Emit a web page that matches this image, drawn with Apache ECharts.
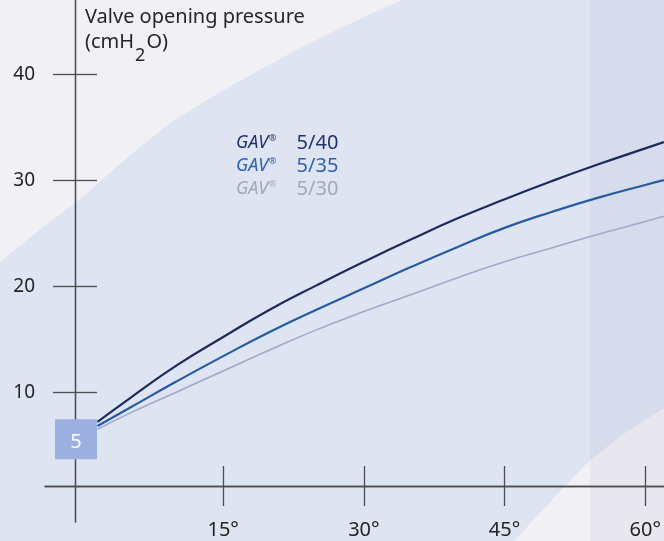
<!DOCTYPE html>
<html>
<head>
<meta charset="utf-8">
<script src="https://cdn.jsdelivr.net/npm/echarts@6/dist/echarts.min.js"></script>
<style>
html,body{margin:0;padding:0;background:#dfe4f3;}
#chart{width:664px;height:541px;}
</style>
</head>
<body>
<div id="chart"></div>
<script>
// ---- data ----
const angles = [1.6, 5, 10, 15, 20, 25, 30, 35, 40, 45, 50, 55, 60, 62];
const gav540 = [7.2, 9.4, 12.5, 15.2, 17.8, 20.1, 22.3, 24.4, 26.4, 28.2, 29.9, 31.5, 33.0, 33.6];
const gav535 = [6.8, 8.5, 11.0, 13.4, 15.7, 17.8, 19.8, 21.8, 23.7, 25.5, 27.0, 28.35, 29.55, 30.0];
const gav530 = [6.5, 8.0, 10.0, 12.0, 14.0, 15.9, 17.6, 19.2, 20.8, 22.3, 23.6, 24.9, 26.1, 26.6];
const seriesNames = ['GAV® 5/40', 'GAV® 5/35', 'GAV® 5/30'];
const xTicks = [15, 30, 45, 60];
const yTicks = [10, 20, 30, 40];
const startPoint = [[0, 5]];

const colors = ['#1c2b5c', '#285aa2', '#a2a9c6'];
const textColors = ['#22346c', '#2f62ad', '#a3a8ba'];

const chart = echarts.init(document.getElementById('chart'), null, {renderer: 'canvas'});
const font = 'Noto Sans';

function pairs(xs, ys) { return xs.map((x, i) => [x, ys[i]]); }

const axisColor = '#4d4d52';
function xAx(inside, labels) {
  return {
    type: 'value', min: -4, max: 62, position: 'bottom', offset: -36,
    axisLine: {show: true, onZero: false, lineStyle: {color: axisColor, width: 1.3}},
    axisTick: {show: true, inside: inside, length: 20, customValues: xTicks, lineStyle: {color: axisColor, width: 1.3}},
    axisLabel: {show: labels, customValues: xTicks, formatter: v => v + '°', margin: 34,
      fontFamily: font, fontSize: 20, color: '#242426'},
    splitLine: {show: false}
  };
}
function yAx(inside, labels) {
  return {
    type: 'value', min: -2.25, max: 47, position: 'left', offset: -30,
    axisLine: {show: true, onZero: false, lineStyle: {color: axisColor, width: 1.3}},
    axisTick: {show: true, inside: inside, length: 22, customValues: yTicks, lineStyle: {color: axisColor, width: 1.3}},
    axisLabel: {show: labels, customValues: yTicks, margin: 40,
      fontFamily: font, fontSize: 19, color: '#242426'},
    splitLine: {show: false}
  };
}

const rich = {};
textColors.forEach((c, i) => {
  rich['i' + i] = {fontFamily: font, fontStyle: 'italic', fontSize: 18, color: c};
  rich['s' + i] = {fontFamily: font, fontSize: 9, color: c, padding: [0, 0, 9, 1]};
  rich['n' + i] = {fontFamily: font, fontSize: 20, color: c, padding: [0, 0, 0, 20]};
});

const option = {
  backgroundColor: '#dfe4f3',
  animation: false,
  title: {
    left: 85, top: 7, padding: 0,
    text: '{a|Valve opening pressure}\n{a|(cmH}{s|2}{a|O)}',
    textStyle: {
      rich: {
        a: {fontFamily: font, fontWeight: 'normal', fontSize: 20, color: '#262628', lineHeight: 25.5, verticalAlign: 'top'},
        s: {fontFamily: font, fontWeight: 'normal', fontSize: 18, color: '#262628', lineHeight: 10,
            padding: [14, 1, 0, 1], verticalAlign: 'top'}
      }
    }
  },
  legend: {
    orient: 'vertical', left: 226, top: 128, itemGap: 3,
    icon: 'none', itemWidth: 0, itemHeight: 0,
    data: seriesNames,
    formatter: name => {
      const i = seriesNames.indexOf(name);
      const parts = name.split(' ');
      return '{i' + i + '|GAV}{s' + i + '|®}{n' + i + '|' + parts[1] + '}';
    },
    textStyle: {rich: rich},
    selectedMode: false
  },
  grid: {left: 45, right: 0, top: 0, bottom: 19, outerBoundsMode: 'none', containLabel: false},
  xAxis: [xAx(false, true), xAx(true, false)],
  yAxis: [yAx(false, true), yAx(true, false)],
  graphic: [
    {type: 'polygon', z: -10, silent: true,
      shape: {points: [[0,0],[402,0],[370,14],[339,29],[300,48],[254,73],[212,97],[170,123],[128,157],[85,195],[42,228],[0,262]]},
      style: {fill: '#f1f0f4'}},
    {type: 'polygon', z: -10, silent: true,
      shape: {points: [[514,541],[550,502],[590,460],[625,433],[664,408],[664,541]]},
      style: {fill: '#f1f0f4'}},
    {type: 'rect', z: -9, silent: true,
      shape: {x: 590, y: 0, width: 74, height: 541},
      style: {fill: 'rgba(90,100,140,0.06)'}}
  ],
  series: [
    {name: seriesNames[0], type: 'line', smooth: true, showSymbol: false, z: 5,
      data: pairs(angles, gav540), lineStyle: {color: colors[0], width: 2.2}, itemStyle: {color: colors[0]}},
    {name: seriesNames[1], type: 'line', smooth: true, showSymbol: false, z: 5,
      data: pairs(angles, gav535), lineStyle: {color: colors[1], width: 2.2}, itemStyle: {color: colors[1]}},
    {name: seriesNames[2], type: 'line', smooth: true, showSymbol: false, z: 5,
      data: pairs(angles, gav530), lineStyle: {color: colors[2], width: 1.6}, itemStyle: {color: colors[2]}},
    {name: 'start', type: 'scatter', z: 4, symbol: 'rect', symbolSize: [42, 40], symbolOffset: [-6.5, -6],
      data: startPoint, itemStyle: {color: '#9cb0e0', opacity: 1},
      label: {show: true, position: 'inside', offset: [0, 3], formatter: p => p.value[1],
        color: '#ffffff', fontFamily: font, fontSize: 20}}
  ]
};
chart.setOption(option);
</script>
</body>
</html>
